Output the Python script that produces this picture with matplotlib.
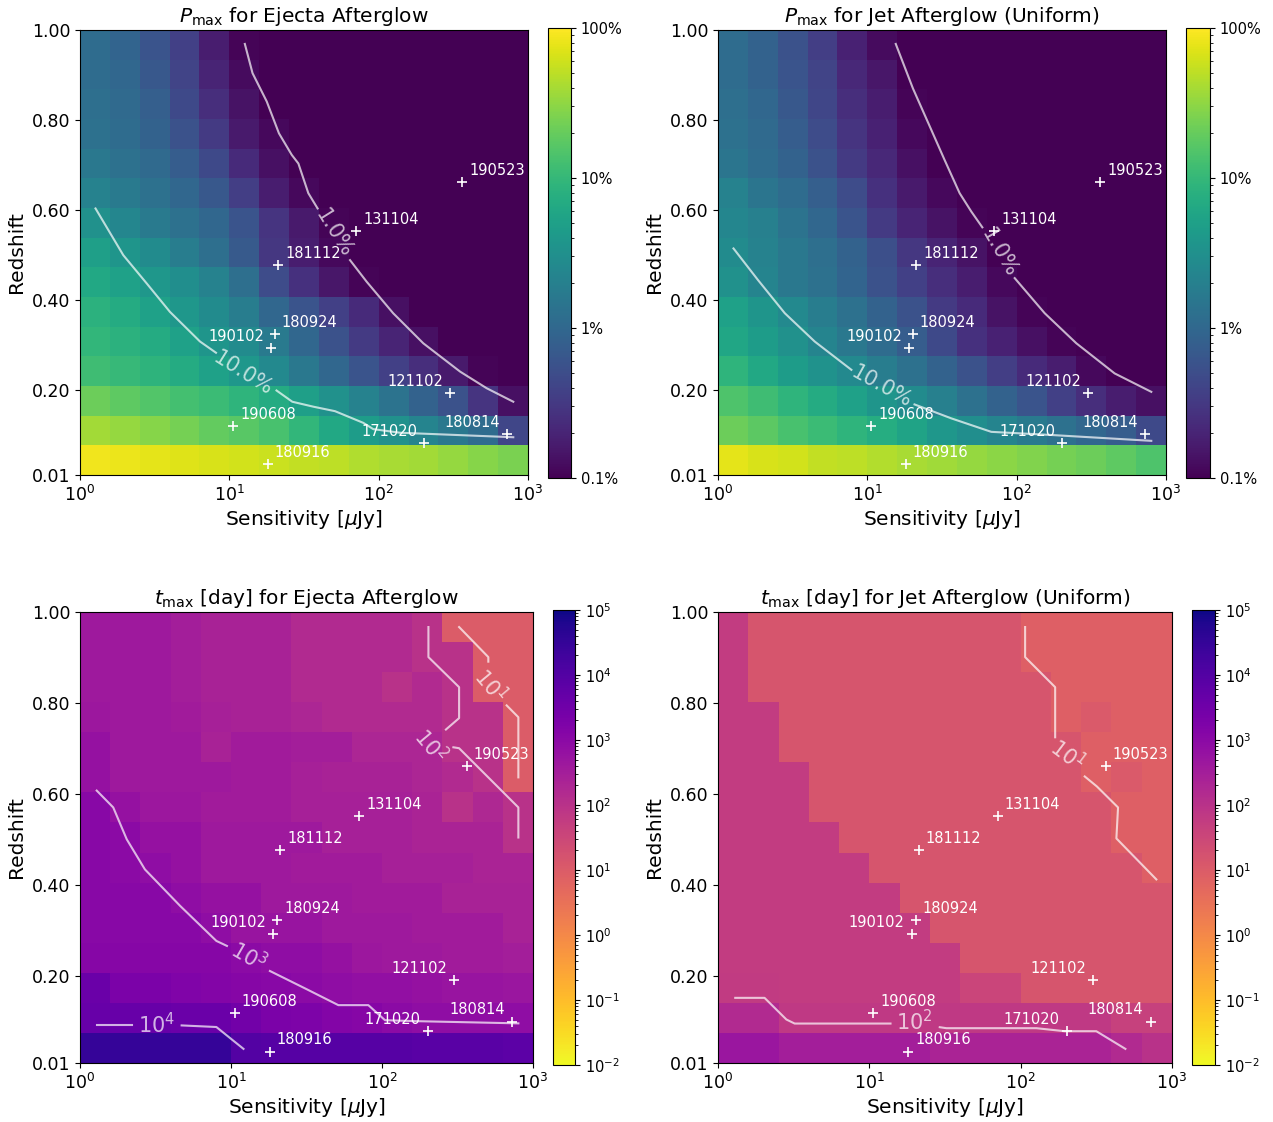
import matplotlib
matplotlib.use("Agg")
import matplotlib.pyplot as plt
import numpy as np
from matplotlib.colors import LogNorm
from matplotlib.ticker import FuncFormatter, FixedLocator, NullLocator

# cell edges of the grid (15 x 15)
sens_edges = np.logspace(0, 3, 16)
z_edges = np.linspace(0.01, 1.0, 16)

D = -1.3  # below 0.1 %

# log10(P_max [%]), rows from the top (z ~ 1) down to z ~ 0.01
pmax_ejecta_log = [
    [0.05, -0.04, -0.22, -0.43, -0.76, -0.97, D, D, D, D, D, D, D, D, D],
    [0.05, -0.01, -0.19, -0.40, -0.70, -0.91, D, D, D, D, D, D, D, D, D],
    [0.08, 0.02, -0.10, -0.34, -0.61, -0.85, D, D, D, D, D, D, D, D, D],
    [0.11, 0.05, -0.07, -0.25, -0.49, -0.79, -0.94, D, D, D, D, D, D, D, D],
    [0.20, 0.11, 0.02, -0.13, -0.34, -0.64, -0.88, D, D, D, D, D, D, D, D],
    [0.32, 0.23, 0.11, -0.01, -0.19, -0.46, -0.76, -0.94, D, D, D, D, D, D, D],
    [0.50, 0.38, 0.23, 0.11, -0.01, -0.22, -0.55, -0.79, -0.97, D, D, D, D, D, D],
    [0.68, 0.56, 0.44, 0.26, 0.08, -0.16, -0.52, -0.76, -0.94, D, D, D, D, D, D],
    [0.80, 0.71, 0.59, 0.47, 0.32, 0.08, -0.31, -0.58, -0.82, -0.97, D, D, D, D, D],
    [0.92, 0.83, 0.71, 0.59, 0.44, 0.26, -0.01, -0.22, -0.43, -0.64, -0.88, D, D, D, D],
    [0.98, 0.92, 0.83, 0.71, 0.56, 0.44, 0.23, -0.01, -0.25, -0.49, -0.70, -0.88, D, D, D],
    [1.07, 1.01, 0.94, 0.83, 0.71, 0.59, 0.41, 0.20, -0.01, -0.22, -0.43, -0.61, -0.79, -0.97, D],
    [1.33, 1.25, 1.19, 1.10, 1.04, 0.95, 0.83, 0.68, 0.50, 0.32, 0.14, -0.07, -0.25, -0.55, -0.88],
    [1.58, 1.52, 1.46, 1.37, 1.28, 1.22, 1.13, 0.98, 0.80, 0.65, 0.50, 0.35, 0.20, 0.05, -0.37],
    [1.94, 1.91, 1.88, 1.85, 1.82, 1.79, 1.76, 1.73, 1.70, 1.64, 1.61, 1.58, 1.52, 1.46, 1.40],
]

pmax_jet_log = [
    [0.05, -0.07, -0.25, -0.46, -0.73, -0.91, D, D, D, D, D, D, D, D, D],
    [0.05, -0.07, -0.22, -0.40, -0.67, -0.82, D, D, D, D, D, D, D, D, D],
    [0.08, -0.01, -0.19, -0.37, -0.61, -0.76, -0.97, D, D, D, D, D, D, D, D],
    [0.11, 0.02, -0.13, -0.31, -0.55, -0.73, -0.94, D, D, D, D, D, D, D, D],
    [0.17, 0.05, -0.07, -0.25, -0.49, -0.67, -0.88, D, D, D, D, D, D, D, D],
    [0.32, 0.17, 0.05, -0.10, -0.31, -0.58, -0.79, -0.94, D, D, D, D, D, D, D],
    [0.38, 0.29, 0.14, -0.01, -0.22, -0.49, -0.70, -0.85, -0.97, D, D, D, D, D, D],
    [0.44, 0.32, 0.20, 0.08, -0.07, -0.28, -0.52, -0.70, -0.85, D, D, D, D, D, D],
    [0.50, 0.35, 0.20, 0.11, -0.04, -0.25, -0.43, -0.61, -0.76, -0.94, D, D, D, D, D],
    [0.71, 0.56, 0.41, 0.26, 0.11, -0.07, -0.25, -0.49, -0.64, -0.85, -0.97, D, D, D, D],
    [0.77, 0.65, 0.50, 0.35, 0.20, 0.05, -0.13, -0.34, -0.58, -0.73, -0.88, -0.97, D, D, D],
    [0.95, 0.80, 0.65, 0.53, 0.41, 0.26, 0.11, -0.07, -0.25, -0.46, -0.64, -0.76, -0.94, D, D],
    [1.16, 1.07, 0.95, 0.83, 0.71, 0.56, 0.44, 0.29, 0.11, -0.07, -0.22, -0.43, -0.61, -0.76, -0.88],
    [1.33, 1.24, 1.13, 1.04, 0.95, 0.86, 0.74, 0.59, 0.47, 0.35, 0.23, 0.11, -0.01, -0.13, -0.34],
    [1.88, 1.82, 1.79, 1.73, 1.70, 1.66, 1.61, 1.57, 1.52, 1.48, 1.43, 1.37, 1.33, 1.25, 1.16],
]

# log10(t_max [day]), rows from the top down
tmax_ejecta_log = [
    [2.6, 2.6, 2.6, 2.5, 2.4, 2.4, 2.4, 2.2, 2.2, 2.2, 2.2, 2.0, 1.0, 1.0, 1.0],
    [2.6, 2.6, 2.6, 2.5, 2.4, 2.4, 2.4, 2.2, 2.2, 2.2, 2.2, 2.0, 2.0, 1.0, 1.0],
    [2.6, 2.6, 2.6, 2.5, 2.4, 2.4, 2.4, 2.2, 2.2, 2.2, 2.0, 2.2, 2.0, 1.0, 1.0],
    [2.65, 2.6, 2.6, 2.55, 2.45, 2.4, 2.4, 2.3, 2.2, 2.2, 2.2, 2.2, 2.0, 2.0, 1.0],
    [2.8, 2.6, 2.6, 2.6, 2.4, 2.55, 2.55, 2.5, 2.5, 2.3, 2.3, 2.3, 2.0, 2.0, 1.0],
    [2.8, 2.6, 2.6, 2.6, 2.6, 2.55, 2.55, 2.45, 2.4, 2.4, 2.4, 2.3, 2.2, 2.0, 1.0],
    [3.05, 2.8, 2.65, 2.65, 2.55, 2.55, 2.55, 2.45, 2.45, 2.45, 2.45, 2.35, 2.0, 2.25, 2.0],
    [3.05, 3.0, 2.8, 2.8, 2.6, 2.6, 2.6, 2.6, 2.45, 2.45, 2.45, 2.35, 2.35, 2.35, 2.0],
    [3.05, 3.0, 2.9, 2.8, 2.6, 2.6, 2.6, 2.55, 2.55, 2.55, 2.45, 2.45, 2.45, 2.35, 2.35],
    [3.05, 3.05, 3.05, 2.9, 2.8, 2.8, 2.6, 2.6, 2.6, 2.55, 2.55, 2.55, 2.4, 2.4, 2.4],
    [3.05, 3.05, 3.05, 3.05, 2.9, 2.75, 2.75, 2.75, 2.6, 2.6, 2.6, 2.55, 2.55, 2.55, 2.4],
    [3.1, 3.1, 3.1, 3.1, 3.1, 3.0, 2.9, 2.9, 2.8, 2.65, 2.6, 2.6, 2.55, 2.55, 2.5],
    [3.6, 3.3, 3.3, 3.2, 3.15, 3.1, 3.05, 3.0, 2.9, 2.85, 2.85, 2.8, 2.75, 2.75, 2.7],
    [3.65, 3.65, 3.65, 3.6, 3.6, 3.45, 3.3, 3.25, 3.15, 3.1, 3.0, 2.9, 2.9, 2.9, 2.9],
    [4.5, 4.5, 4.5, 4.5, 4.5, 4.0, 3.95, 3.95, 3.95, 3.95, 3.95, 3.9, 3.9, 3.9, 3.85],
]

tmax_jet_log = [
    [1.75, 1.15, 1.15, 1.15, 1.15, 1.15, 1.15, 1.15, 1.15, 1.15, 0.9, 0.9, 0.9, 0.9, 0.9],
    [1.75, 1.15, 1.15, 1.15, 1.15, 1.15, 1.15, 1.15, 1.15, 1.15, 0.9, 0.9, 0.9, 0.9, 0.9],
    [1.75, 1.15, 1.15, 1.15, 1.15, 1.15, 1.15, 1.15, 1.15, 1.15, 1.15, 0.9, 0.9, 0.9, 0.9],
    [1.75, 1.75, 1.15, 1.15, 1.15, 1.15, 1.15, 1.15, 1.15, 1.15, 1.15, 0.9, 1.05, 0.9, 0.9],
    [1.75, 1.75, 1.15, 1.15, 1.15, 1.15, 1.15, 1.15, 1.15, 1.15, 1.15, 1.15, 0.9, 0.9, 0.9],
    [1.75, 1.75, 1.75, 1.15, 1.15, 1.15, 1.15, 1.15, 1.15, 1.15, 1.15, 1.15, 0.9, 1.05, 0.9],
    [1.75, 1.75, 1.75, 1.15, 1.15, 1.15, 1.15, 1.15, 1.15, 1.15, 1.15, 1.15, 1.15, 0.9, 0.9],
    [1.75, 1.75, 1.75, 1.75, 1.15, 1.15, 1.15, 1.15, 1.15, 1.15, 1.15, 1.15, 1.15, 0.9, 0.9],
    [1.75, 1.75, 1.75, 1.75, 1.75, 1.15, 1.15, 1.15, 1.15, 1.15, 1.15, 1.15, 1.15, 1.15, 0.9],
    [1.75, 1.75, 1.75, 1.75, 1.75, 1.75, 1.15, 1.15, 1.15, 1.15, 1.15, 1.15, 1.15, 1.15, 1.15],
    [1.75, 1.75, 1.75, 1.75, 1.75, 1.75, 1.75, 1.15, 1.15, 1.15, 1.15, 1.15, 1.15, 1.15, 1.15],
    [1.75, 1.75, 1.75, 1.75, 1.75, 1.75, 1.75, 1.75, 1.15, 1.15, 1.15, 1.15, 1.15, 1.15, 1.15],
    [1.8, 1.8, 1.75, 1.75, 1.75, 1.75, 1.75, 1.75, 1.55, 1.55, 1.15, 1.15, 1.15, 1.15, 1.15],
    [2.2, 2.2, 1.85, 1.85, 1.85, 1.85, 1.85, 1.85, 1.85, 1.85, 1.85, 1.85, 1.85, 1.65, 1.65],
    [2.7, 2.7, 2.5, 2.5, 2.5, 2.5, 2.5, 2.35, 2.35, 2.35, 2.35, 2.35, 2.35, 2.2, 2.0],
]

# FRB-like events: sensitivity [uJy], redshift
event_names = ["190523", "131104", "181112", "180924", "190102",
               "121102", "190608", "180814", "171020", "180916"]
event_sens = [364, 70.6, 21.2, 20.2, 19.0, 301, 10.6, 721, 201, 18.1]
event_z = [0.662, 0.552, 0.4765, 0.324, 0.2925, 0.192, 0.119, 0.101, 0.0805, 0.035]
left_labels = ["190102", "121102", "180814", "171020"]

# contour lines (pieces split where the label sits)
pe_1pct = [([12.7, 14.3, 17.8, 21.5, 26.2, 29.0, 33.8, 39.0],
            [0.969, 0.904, 0.841, 0.770, 0.722, 0.703, 0.637, 0.603]),
           ([64.3, 83.1, 125, 199, 351, 529, 797],
            [0.488, 0.440, 0.370, 0.303, 0.240, 0.203, 0.173])]
pe_10pct = [([1.27, 1.95, 2.80, 4.0, 6.36, 8.14],
             [0.603, 0.499, 0.436, 0.373, 0.307, 0.282]),
            ([20.7, 26.4, 36.5, 51, 78.9, 92.1, 139, 797],
             [0.198, 0.173, 0.162, 0.152, 0.126, 0.112, 0.104, 0.094])]
pj_1pct = [([15.5, 20.2, 26.8, 32.9, 41.5, 49.7, 58.9],
            [0.969, 0.870, 0.778, 0.711, 0.637, 0.596, 0.561]),
           ([97, 154, 251, 453, 797],
            [0.448, 0.370, 0.303, 0.236, 0.195])]
pj_10pct = [([1.27, 1.85, 2.80, 4.44, 7.82],
             [0.514, 0.444, 0.370, 0.307, 0.244]),
            ([20.7, 36.5, 67.6, 171, 797],
             [0.167, 0.136, 0.106, 0.099, 0.086])]
te_1e3 = [([1.29, 1.66, 2.04, 2.69, 4.6, 8.0, 9.4],
           [0.608, 0.571, 0.501, 0.435, 0.355, 0.278, 0.267]),
          ([18.1, 31.7, 51.4, 81.2, 104.7, 161, 800],
           [0.212, 0.172, 0.137, 0.137, 0.104, 0.102, 0.097])]
te_1e4 = [([1.29, 2.22], [0.0925, 0.0925]),
          ([4.71, 8.0, 12.1], [0.0925, 0.089, 0.041])]
te_1e2 = [([203, 203, 324, 324, 265], [0.967, 0.901, 0.835, 0.767, 0.742]),
          ([297, 324, 800, 800], [0.703, 0.701, 0.571, 0.505])]
te_1e1 = [([324, 506, 506], [0.967, 0.901, 0.891]),
          ([669, 800, 800], [0.795, 0.769, 0.637])]
tj_1e1 = [([107, 107, 169, 169], [0.967, 0.901, 0.835, 0.725]),
          ([265, 319, 440, 429, 788], [0.639, 0.617, 0.571, 0.503, 0.413])]
tj_1e2 = [([1.30, 2.03, 2.83, 3.21, 13.8], [0.153, 0.153, 0.1055, 0.0966, 0.0966]),
          ([29.2, 32.3, 127, 195, 316, 492], [0.0886, 0.0864, 0.0864, 0.0798, 0.0798, 0.041])]

# contour labels: text, sensitivity, redshift, rotation
pe_labels = [("1.0%", 49.7, 0.548, -58), ("10.0%", 12.4, 0.236, -32)]
pj_labels = [("1.0%", 76.0, 0.505, -60), ("10.0%", 12.4, 0.207, -29)]
te_labels = [("$10^{3}$", 13.0, 0.245, -30), ("$10^{4}$", 3.22, 0.094, 0),
             ("$10^{2}$", 210, 0.707, -50), ("$10^{1}$", 524, 0.839, -50)]
tj_labels = [("$10^{1}$", 205, 0.686, -37), ("$10^{2}$", 19.9, 0.100, 0)]

W, H = 1273, 1122


def px_rect(x0, x1, y0, y1):
    return [x0 / W, 1 - y1 / H, (x1 - x0) / W, (y1 - y0) / H]


def draw_panel(fig, rect, crect, log_grid, cmap, norm, title, lines, labels, pct):
    ax = fig.add_axes(px_rect(*rect))
    cax = fig.add_axes(px_rect(*crect))
    values = 10 ** np.array(log_grid)[::-1]
    mesh = ax.pcolormesh(sens_edges, z_edges, values, cmap=cmap, norm=norm,
                         shading="flat")
    ax.set_xscale("log")
    ax.set_xlim(1, 1000)
    ax.set_ylim(0.01, 1.0)
    ax.xaxis.set_minor_locator(NullLocator())
    ax.set_yticks([0.01, 0.2, 0.4, 0.6, 0.8, 1.0])
    ax.yaxis.set_major_formatter(FuncFormatter(lambda v, p: f"{v:.2f}"))
    ax.tick_params(labelsize=12.5)
    ax.set_xlabel(r"Sensitivity [$\mu$Jy]", fontsize=14.5, labelpad=2)
    ax.set_ylabel("Redshift", fontsize=14.5)
    ax.set_title(title, fontsize=14.5)

    for segs in lines:
        for xs, zs in segs:
            ax.plot(xs, zs, color="white", alpha=0.7, lw=1.5)
    for txt, xv, zv, rot in labels:
        ax.text(xv, zv, txt, color="white", alpha=0.7, fontsize=15,
                rotation=rot, rotation_mode="anchor", ha="center", va="center")

    ax.plot(event_sens, event_z, "+", color="white", ms=7, mew=1.2)
    for name, s, z in zip(event_names, event_sens, event_z):
        if name in left_labels:
            ax.annotate(name, (s, z), xytext=(-5, 3), textcoords="offset points",
                        ha="right", va="bottom", color="white", fontsize=10.5)
        else:
            ax.annotate(name, (s, z), xytext=(5, 3), textcoords="offset points",
                        ha="left", va="bottom", color="white", fontsize=10.5)

    cb = fig.colorbar(mesh, cax=cax)
    if pct:
        cb.ax.yaxis.set_major_locator(FixedLocator([0.1, 1, 10, 100]))
        cb.ax.yaxis.set_major_formatter(FuncFormatter(lambda v, p: f"{v:g}%"))
    cb.ax.tick_params(labelsize=10.5)
    return ax


fig = plt.figure(figsize=(W / 100, H / 100), dpi=100)

pnorm = LogNorm(vmin=0.1, vmax=100)
tnorm = LogNorm(vmin=1e-2, vmax=1e5)

draw_panel(fig, (80, 528, 30, 475), (548, 571, 28, 478), pmax_ejecta_log,
           "viridis", pnorm, r"$P_{\rm max}$ for Ejecta Afterglow",
           [pe_1pct, pe_10pct], pe_labels, True)
draw_panel(fig, (718, 1166, 30, 475), (1186, 1210, 28, 478), pmax_jet_log,
           "viridis", pnorm, r"$P_{\rm max}$ for Jet Afterglow (Uniform)",
           [pj_1pct, pj_10pct], pj_labels, True)
draw_panel(fig, (80, 533, 612, 1063), (553, 575, 610, 1065), tmax_ejecta_log,
           "plasma_r", tnorm, r"$t_{\rm max}$ [day] for Ejecta Afterglow",
           [te_1e3, te_1e4, te_1e2, te_1e1], te_labels, False)
draw_panel(fig, (718, 1172, 612, 1063), (1192, 1215, 610, 1065), tmax_jet_log,
           "plasma_r", tnorm, r"$t_{\rm max}$ [day] for Jet Afterglow (Uniform)",
           [tj_1e1, tj_1e2], tj_labels, False)

fig.savefig("out.png", dpi=100)
